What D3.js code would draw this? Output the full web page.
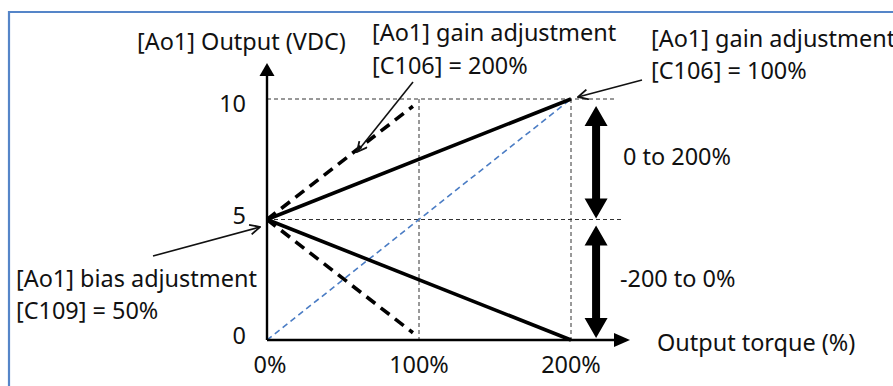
<!DOCTYPE html>
<html><head><meta charset="utf-8">
<script src="https://cdn.jsdelivr.net/npm/d3@7"></script>
<style>html,body{margin:0;padding:0;background:#fff;}svg{display:block;}text{font-family:"Noto Sans","DejaVu Sans",sans-serif;fill:#111;}</style>
</head><body>
<script>
// ---- data ----
const xTicks = [0, 100, 200];
const xTickLabels = ["0%", "100%", "200%"];
const yTicks = [0, 5, 10];
const yTickLabels = ["0", "5", "10"];
const gain100Up = [[0, 5], [200, 10]];
const gain100Down = [[0, 5], [200, 0]];
const gain200Up = [[0, 5], [96, 9.7]];
const gain200Down = [[0, 5], [96, 0.3]];
const reference = [[0, 0], [200, 10]];
const yAxisTitle = "[Ao1] Output (VDC)";
const xAxisTitle = "Output torque (%)";
const gain200Label = ["[Ao1] gain adjustment", "[C106] = 200%"];
const gain100Label = ["[Ao1] gain adjustment", "[C106] = 100%"];
const biasLabel = ["[Ao1] bias adjustment", "[C109] = 50%"];
const rangeLabels = ["0 to 200%", "-200 to 0%"];

const W = 893, H = 386;
const svg = d3.select("body").append("svg").attr("width", W).attr("height", H);
const x = d3.scaleLinear().domain([0, 200]).range([267, 571]);
const y = d3.scaleLinear().domain([0, 10]).range([340, 99]);

// fit font size so that the bias label is ~241px wide like the reference
const probe = svg.append("text").attr("font-size", 20).text(biasLabel[0]);
const pw = probe.node().getComputedTextLength();
probe.remove();
const FS = Math.max(16, Math.min(24, 20 * 241 / (pw || 241)));

// frame
svg.append("path").attr("d", `M9,${H+5} V12 H${W+5}`).attr("fill", "none").attr("stroke", "#5585C8").attr("stroke-width", 2.2);

const defs = svg.append("defs");
defs.append("marker").attr("id", "open").attr("viewBox", "0 0 12 12").attr("refX", 11).attr("refY", 6)
  .attr("markerWidth", 12).attr("markerHeight", 12).attr("markerUnits", "userSpaceOnUse").attr("orient", "auto")
  .append("path").attr("d", "M1,1 L11,6 L1,11").attr("fill", "none").attr("stroke", "#111").attr("stroke-width", 1.8);

const line = d3.line().x(d => x(d[0])).y(d => y(d[1]));

// grid dashed lines
const g = svg.append("g").attr("stroke", "#333").attr("stroke-width", 1).attr("stroke-dasharray", "4,3").attr("fill", "none");
g.append("line").attr("x1", x(0)).attr("x2", x(229)).attr("y1", y(10)).attr("y2", y(10));
g.append("line").attr("x1", x(0)).attr("x2", x(234)).attr("y1", y(5)).attr("y2", y(5));
g.append("line").attr("x1", x(100)).attr("x2", x(100)).attr("y1", y(10)).attr("y2", y(0));
g.append("line").attr("x1", x(200)).attr("x2", x(200)).attr("y1", y(10)).attr("y2", y(0));

// blue reference
svg.append("path").datum(reference).attr("d", line).attr("fill", "none").attr("stroke", "#4A7CC4")
  .attr("stroke-width", 1.6).attr("stroke-dasharray", "6,4");

// axes
const axW = 2.4;
svg.append("line").attr("x1", x(0)).attr("x2", x(0)).attr("y1", y(0)).attr("y2", 72).attr("stroke", "#000").attr("stroke-width", axW);
svg.append("path").attr("d", `M${x(0)},63 L${x(0)+7.5},76 L${x(0)-7.5},76 Z`).attr("fill", "#000");
svg.append("line").attr("x1", x(0)).attr("x2", 620).attr("y1", y(0)).attr("y2", y(0)).attr("stroke", "#000").attr("stroke-width", axW);
svg.append("path").attr("d", `M630,${y(0)} L614,${y(0)-7} L614,${y(0)+7} Z`).attr("fill", "#000");

// series
[gain100Up, gain100Down].forEach(s => svg.append("path").datum(s).attr("d", line).attr("fill", "none")
  .attr("stroke", "#000").attr("stroke-width", 3.6));
[gain200Up, gain200Down].forEach(s => svg.append("path").datum(s).attr("d", line).attr("fill", "none")
  .attr("stroke", "#000").attr("stroke-width", 3.6).attr("stroke-dasharray", "11,7"));

// tick labels
svg.selectAll(".yt").data(yTicks).enter().append("text").attr("x", 246).attr("y", d => y(d) + 7 + (d === 10 ? 6 : d === 0 ? -3 : -3))
  .attr("text-anchor", "end").attr("font-size", FS).text((d, i) => yTickLabels[i]);
svg.selectAll(".xt").data(xTicks).enter().append("text").attr("x", d => x(d) + (d === 0 ? 3 : 0)).attr("y", 373)
  .attr("text-anchor", "middle").attr("font-size", FS).text((d, i) => xTickLabels[i]);

// titles
svg.append("text").attr("x", 137).attr("y", 50).attr("font-size", FS).text(yAxisTitle);
svg.append("text").attr("x", 657).attr("y", 351).attr("font-size", FS).text(xAxisTitle);

// annotation labels
function label(lines, x0, y0, dy) {
  lines.forEach((t, i) => svg.append("text").attr("x", x0).attr("y", y0 + i * dy).attr("font-size", FS).text(t));
}
label(gain200Label, 372, 41, 33);
label(gain100Label, 651, 47, 32);
label(biasLabel, 16, 287, 32);
svg.append("text").attr("x", 623).attr("y", 165).attr("font-size", FS).text(rangeLabels[0]);
svg.append("text").attr("x", 620).attr("y", 287).attr("font-size", FS).text(rangeLabels[1]);

// annotation arrows
const ann = [[413, 82, 357, 152], [642, 80, 578, 97], [153, 256, 260, 227]];
ann.forEach(a => svg.append("line").attr("x1", a[0]).attr("y1", a[1]).attr("x2", a[2]).attr("y2", a[3])
  .attr("stroke", "#111").attr("stroke-width", 1.6).attr("marker-end", "url(#open)"));

// double arrows
function dbl(xc, yTop, yBot) {
  const hw = 11.5, hl = 20, sw = 4;
  svg.append("path").attr("d",
    `M${xc},${yTop} L${xc+hw},${yTop+hl} L${xc+sw},${yTop+hl} L${xc+sw},${yBot-hl} L${xc+hw},${yBot-hl} L${xc},${yBot} L${xc-hw},${yBot-hl} L${xc-sw},${yBot-hl} L${xc-sw},${yTop+hl} L${xc-hw},${yTop+hl} Z`)
    .attr("fill", "#000");
}
dbl(x(216.5), y(10) + 7, y(5) - 1);
dbl(x(216.5), y(5) + 6, y(0) - 2);
</script>
</body></html>
